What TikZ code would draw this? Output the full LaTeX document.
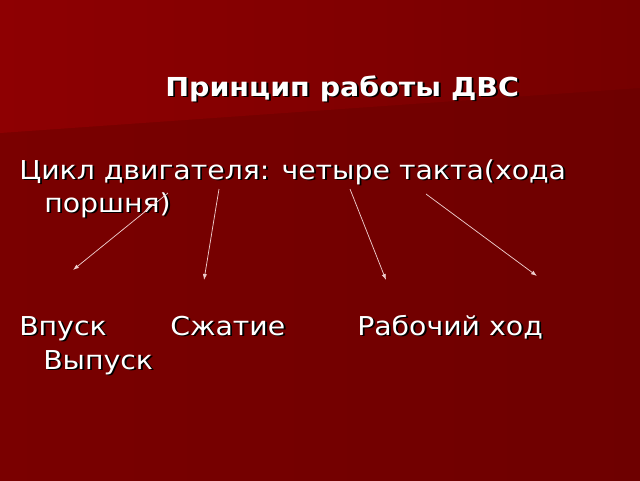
\documentclass[tikz,border=0pt]{standalone}
\usepackage{fontspec}
\setmainfont{DejaVu Sans}[FakeStretch=1.09]
\usetikzlibrary{arrows.meta}
\definecolor{slidetop}{RGB}{142,0,2}
\definecolor{slidetopr}{RGB}{118,0,0}
\definecolor{slidebot}{RGB}{122,0,0}
\definecolor{slidebotr}{RGB}{110,0,0}
\definecolor{arrowcol}{RGB}{238,205,205}
\newcommand{\shad}[1]{\makebox[0pt][l]{\hspace{1.4pt}\raisebox{-1.4pt}{\textcolor{black}{#1}}}#1}
\tikzset{
  body/.style={anchor=base west, inner sep=0pt, text=white, font=\fontsize{19.5}{23}\selectfont},
  title/.style={anchor=base west, inner sep=0pt, text=white, font=\fontsize{19.6}{23}\selectfont\bfseries},
  stroke/.style={arrowcol, line width=0.55pt, -{Latex[length=4.5pt,width=3.2pt]}}
}
\begin{document}
\begin{tikzpicture}[x=0.75pt,y=-0.75pt]
	\useasboundingbox (0,0) rectangle (640,480);
	% background
	\shade [left color=slidebot, right color=slidebotr] (0,0) rectangle (640,480);
	\shade [left color=slidetop, right color=slidetopr] (0,0) -- (640,0) -- (640,88) -- (0,133) -- cycle;
	% texts
	\node [title] (head) at (165,96) {\shad{Принцип работы ДВС}};
	\node [body] (cycle) at (19,179) {\shad{Цикл двигателя: четыре такта(хода}};
	\node [body] (piston) at (44,212) {\shad{поршня)}};
	\node [body] (intake) at (19,335) {\shad{Впуск}};
	\node [body] (compress) at (170,335) {\shad{Сжатие}};
	\node [body] (power) at (357,335) {\shad{Рабочий ход}};
	\node [body] (exhaust) at (43,369) {\shad{Выпуск}};
	% arrow ends
	\coordinate (s1) at (168,193);
	\coordinate (s2) at (219,189);
	\coordinate (s3) at (350,189);
	\coordinate (s4) at (426,194);
	\coordinate (e1) at (73,270);
	\coordinate (e2) at (204,280);
	\coordinate (e3) at (386,280);
	\coordinate (e4) at (537,276);
	\draw [stroke] (s1) -- (e1);
	\draw [stroke] (s2) -- (e2);
	\draw [stroke] (s3) -- (e3);
	\draw [stroke] (s4) -- (e4);
\end{tikzpicture}
\end{document}
